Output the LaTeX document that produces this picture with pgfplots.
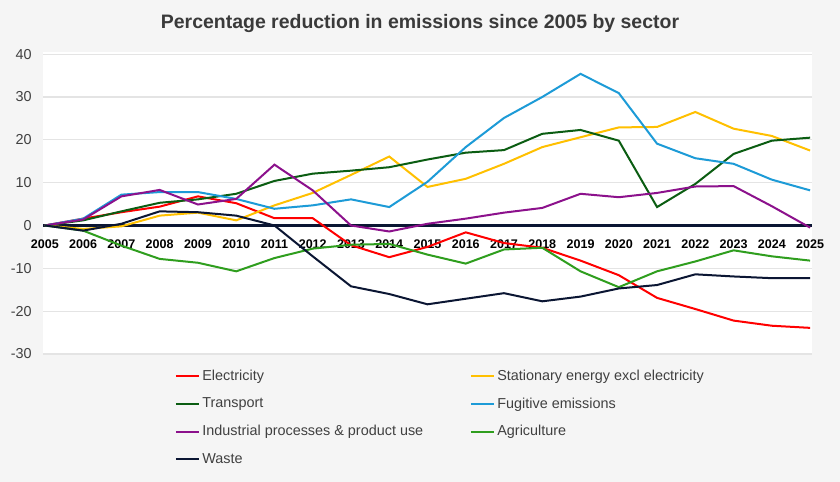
\documentclass[border=0pt]{standalone}
\usepackage{fontspec}
\setmainfont{Liberation Sans}
\usepackage{pgfplots}
\usepackage{pgfplotstable}
\pgfplotsset{compat=1.18}
\definecolor{bgc}{HTML}{F5F5F5}
\definecolor{titlec}{HTML}{3A3A3A}
\definecolor{tickc}{HTML}{404040}
\definecolor{gridc}{HTML}{E4E4E4}
\definecolor{elec}{HTML}{FF0000}
\definecolor{stat}{HTML}{FFC000}
\definecolor{trans}{HTML}{0B5D12}
\definecolor{fug}{HTML}{1D9BD7}
\definecolor{ind}{HTML}{8C118C}
\definecolor{agri}{HTML}{2F9E1E}
\definecolor{waste}{HTML}{0B1633}
\pgfplotstableread{
year elec stat trans fug ind agri waste
2005 0 0 0 0 0 0 0
2006 1.6 -0.8 1.2 1.6 1.4 -1.2 -1.2
2007 3.1 -0.2 3.3 7.2 6.8 -4.7 0.4
2008 4.4 2.3 5.3 7.8 8.3 -7.8 3.3
2009 6.8 3.0 6.1 7.8 4.9 -8.7 3.1
2010 5.2 1.2 7.4 6.2 6.2 -10.7 2.3
2011 1.7 4.7 10.4 3.9 14.2 -7.6 0.0
2012 1.7 7.6 12.1 4.7 8.2 -5.4 -7.2
2013 -4.6 11.8 12.8 6.1 0.0 -4.5 -14.2
2014 -7.4 16.1 13.6 4.3 -1.4 -4.3 -16.0
2015 -5.0 9.0 15.4 10.2 0.4 -6.8 -18.4
2016 -1.6 10.9 17.0 18.3 1.6 -8.9 -17.1
2017 -4.1 14.4 17.6 25.1 3.0 -5.6 -15.8
2018 -5.2 18.3 21.4 30.0 4.1 -5.2 -17.7
2019 -8.2 20.6 22.3 35.4 7.4 -10.7 -16.6
2020 -11.6 22.9 19.8 30.9 6.6 -14.4 -14.7
2021 -16.9 23.0 4.3 19.1 7.6 -10.7 -13.9
2022 -19.5 26.5 9.7 15.7 9.1 -8.4 -11.4
2023 -22.2 22.6 16.7 14.4 9.2 -5.8 -11.9
2024 -23.4 20.9 19.8 10.7 4.5 -7.2 -12.3
2025 -23.9 17.5 20.5 8.2 -0.5 -8.2 -12.3
}\data
\begin{document}
\begin{tikzpicture}
\fill[bgc] (0,0) rectangle (630pt,361.5pt);
\node[font=\bfseries\fontsize{14.6}{17}\selectfont, text=titlec] at (315pt,344pt) {Percentage reduction in emissions since 2005 by sector};
\begin{axis}[
  at={(32.25pt,96pt)}, anchor=south west,
  scale only axis, width=576.75pt, height=226.5pt,
  xmin=2004.95, xmax=2025.05, ymin=-30, ymax=40.5,
  axis background/.style={fill=white},
  axis x line=middle, axis y line=left,
  hide obscured x ticks=false, hide obscured y ticks=false,
  x axis line style={-, line width=2.2pt, color=waste},
  every inner x axis line/.append style={-},
  y axis line style={draw=none},
  major tick length=0pt,
  xtick={2005,2006,...,2025}, ytick={-30,-20,...,40},
  ymajorgrids, grid style={line width=0.9pt, color=gridc},
  /pgf/number format/assume math mode=true,
  /pgf/number format/1000 sep={},
  xticklabel style={font=\bfseries\fontsize{9.4}{11}\selectfont, text=black, yshift=-7pt},
  yticklabel style={font=\fontsize{10.8}{12}\selectfont, text=tickc, xshift=-5pt},
  legend columns=2,
  legend cell align=left,
  legend style={at={(0.166,-0.034)}, anchor=north west, draw=none, fill=none,
    font=\fontsize{10.8}{13}\selectfont, text=tickc, row sep=7.5pt,
    /tikz/every even column/.append style={column sep=33pt}},
  every axis plot/.append style={line width=1.5pt, mark=none},
]
\addplot[elec] table[x=year,y=elec]{\data};
\addlegendentry{Electricity}
\addplot[stat] table[x=year,y=stat]{\data};
\addlegendentry{Stationary energy excl electricity}
\addplot[trans] table[x=year,y=trans]{\data};
\addlegendentry{Transport}
\addplot[fug] table[x=year,y=fug]{\data};
\addlegendentry{Fugitive emissions}
\addplot[ind] table[x=year,y=ind]{\data};
\addlegendentry{Industrial processes \& product use}
\addplot[agri] table[x=year,y=agri]{\data};
\addlegendentry{Agriculture}
\addplot[waste] table[x=year,y=waste]{\data};
\addlegendentry{Waste}
\end{axis}
\end{tikzpicture}
\end{document}
